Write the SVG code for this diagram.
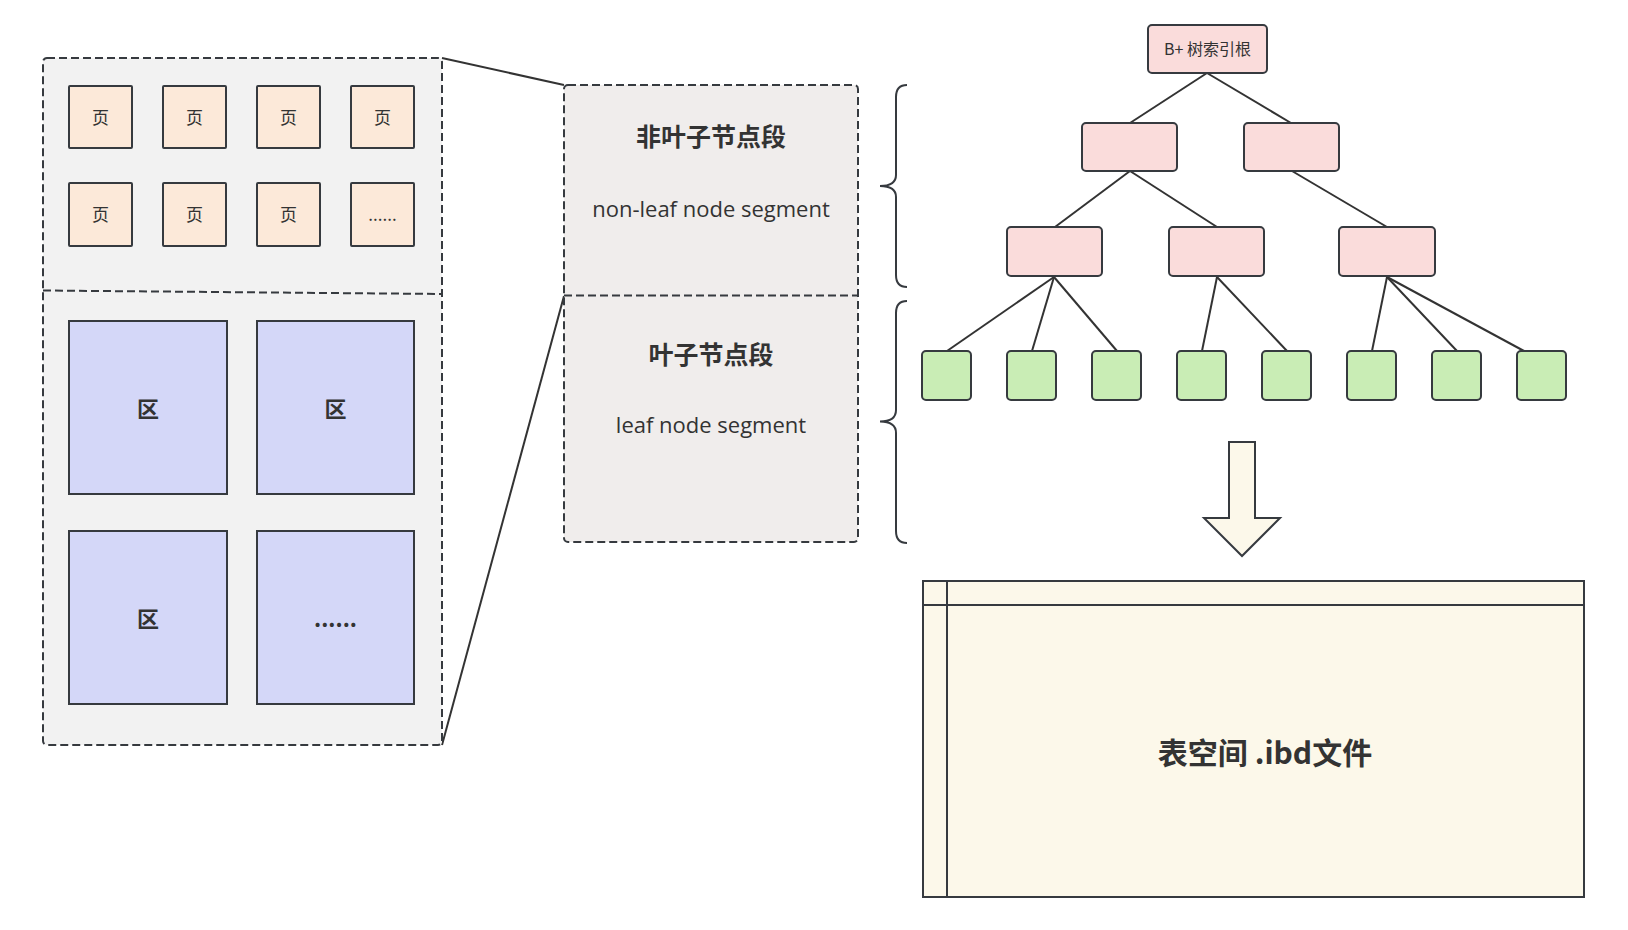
<svg xmlns="http://www.w3.org/2000/svg" width="1628" height="930" viewBox="0 0 1628 930">
<style>
.dash{stroke:#363a3f;stroke-width:2;stroke-dasharray:8 4;}
.box{stroke:#363a3f;stroke-width:2;}
.page{fill:#FCE9D9;stroke:#363a3f;stroke-width:2;}
.ext{fill:#D4D7F8;stroke:#363a3f;stroke-width:2;}
.tn{fill:#FADCDB;stroke:#363a3f;stroke-width:2;}
.lf{fill:#C9EDB5;stroke:#363a3f;stroke-width:2;}
.edge{stroke:#333;stroke-width:2;fill:none;}
.t{font-family:"Noto Sans CJK SC","Noto Sans",sans-serif;fill:#333;text-anchor:middle;dominant-baseline:central;}
.en{font-family:"Open Sans","Noto Sans",sans-serif;fill:#333;text-anchor:middle;dominant-baseline:central;}
</style>
<rect width="1628" height="930" fill="#ffffff"/>

<g id="connectors">
<line class="edge" x1="442" y1="58" x2="564" y2="85"/>
<line class="edge" x1="442" y1="745" x2="564" y2="296"/>
<line class="edge" x1="1207" y1="73" x2="1130" y2="123"/>
<line class="edge" x1="1207" y1="73" x2="1291" y2="123"/>
<line class="edge" x1="1130" y1="171" x2="1055" y2="227"/>
<line class="edge" x1="1130" y1="171" x2="1217" y2="227"/>
<line class="edge" x1="1292" y1="171" x2="1387" y2="227"/>
<line class="edge" x1="1054" y1="277" x2="947" y2="351"/>
<line class="edge" x1="1054" y1="277" x2="1032" y2="351"/>
<line class="edge" x1="1054" y1="277" x2="1117" y2="351"/>
<line class="edge" x1="1217" y1="277" x2="1202" y2="351"/>
<line class="edge" x1="1217" y1="277" x2="1287" y2="351"/>
<line class="edge" x1="1387" y1="277" x2="1372" y2="351"/>
<line class="edge" x1="1387" y1="277" x2="1457" y2="351"/>
<line class="edge" x1="1387" y1="277" x2="1524" y2="351"/>
</g>

<g id="extent-container">
<rect x="43" y="58" width="399" height="687" rx="4" fill="#F2F2F2" class="dash"/>
<line x1="43" y1="290.5" x2="442" y2="294" class="dash"/>
</g>

<g id="pages">
<g id="page1"><rect class="page" x="69" y="86" width="63" height="62" rx="1"/><text class="t" x="100.5" y="116" font-size="17">页</text></g>
<g id="page2"><rect class="page" x="163" y="86" width="63" height="62" rx="1"/><text class="t" x="194.5" y="116" font-size="17">页</text></g>
<g id="page3"><rect class="page" x="257" y="86" width="63" height="62" rx="1"/><text class="t" x="288.5" y="116" font-size="17">页</text></g>
<g id="page4"><rect class="page" x="351" y="86" width="63" height="62" rx="1"/><text class="t" x="382.5" y="116" font-size="17">页</text></g>
<g id="page5"><rect class="page" x="69" y="183" width="63" height="63" rx="1"/><text class="t" x="100.5" y="213" font-size="17">页</text></g>
<g id="page6"><rect class="page" x="163" y="183" width="63" height="63" rx="1"/><text class="t" x="194.5" y="213" font-size="17">页</text></g>
<g id="page7"><rect class="page" x="257" y="183" width="63" height="63" rx="1"/><text class="t" x="288.5" y="213" font-size="17">页</text></g>
<g id="page8"><rect class="page" x="351" y="183" width="63" height="63" rx="1"/><text class="t" x="382.5" y="213" font-size="17">......</text></g>
</g>

<g id="extents">
<g id="ext1"><rect class="ext" x="69" y="321" width="158" height="173"/><text class="t" x="148" y="407" font-size="22" font-weight="bold">区</text></g>
<g id="ext2"><rect class="ext" x="257" y="321" width="157" height="173"/><text class="t" x="335.5" y="407" font-size="22" font-weight="bold">区</text></g>
<g id="ext3"><rect class="ext" x="69" y="531" width="158" height="173"/><text class="t" x="148" y="617" font-size="22" font-weight="bold">区</text></g>
<g id="ext4"><rect class="ext" x="257" y="531" width="157" height="173"/><text class="t" x="335.5" y="617" font-size="22" font-weight="bold">......</text></g>
</g>

<g id="segments">
<rect x="564" y="85" width="294" height="457" rx="4" fill="#F0EDEC" class="dash"/>
<line x1="564" y1="295.5" x2="858" y2="295.5" class="dash"/>
<g id="nonleaf-seg">
<text class="t" x="711" y="135" font-size="25" font-weight="bold">非叶子节点段</text>
<text class="en" x="711" y="208" font-size="22">non-leaf node segment</text>
</g>
<g id="leaf-seg">
<text class="t" x="711" y="353" font-size="25" font-weight="bold">叶子节点段</text>
<text class="en" x="711" y="424" font-size="22">leaf node segment</text>
</g>
</g>

<g id="braces" fill="none" stroke="#363a3f" stroke-width="2">
<path d="M907,85 Q896,85 896,97 L896,175 Q896,186 880,186 Q896,186 896,197 L896,275 Q896,287 907,287"/>
<path d="M907,301 Q896,301 896,313 L896,410 Q896,421.5 880,421.5 Q896,421.5 896,433 L896,531 Q896,543 907,543"/>
</g>

<g id="tree">
<g id="root"><rect class="tn" x="1148" y="25" width="119" height="48" rx="4"/><text class="t" x="1207.5" y="48" font-size="16">B+ 树索引根</text></g>
<rect id="n1" class="tn" x="1082" y="123" width="95" height="48" rx="4"/>
<rect id="n2" class="tn" x="1244" y="123" width="95" height="48" rx="4"/>
<rect id="n3" class="tn" x="1007" y="227" width="95" height="49" rx="4"/>
<rect id="n4" class="tn" x="1169" y="227" width="95" height="49" rx="4"/>
<rect id="n5" class="tn" x="1339" y="227" width="96" height="49" rx="4"/>
<rect id="leaf1" class="lf" x="922" y="351" width="49" height="49" rx="4"/>
<rect id="leaf2" class="lf" x="1007" y="351" width="49" height="49" rx="4"/>
<rect id="leaf3" class="lf" x="1092" y="351" width="49" height="49" rx="4"/>
<rect id="leaf4" class="lf" x="1177" y="351" width="49" height="49" rx="4"/>
<rect id="leaf5" class="lf" x="1262" y="351" width="49" height="49" rx="4"/>
<rect id="leaf6" class="lf" x="1347" y="351" width="49" height="49" rx="4"/>
<rect id="leaf7" class="lf" x="1432" y="351" width="49" height="49" rx="4"/>
<rect id="leaf8" class="lf" x="1517" y="351" width="49" height="49" rx="4"/>
</g>

<g id="down-arrow">
<path d="M1229,442 L1255,442 L1255,518 L1280,518 L1242,556 L1204,518 L1229,518 Z" fill="#FCF8EA" stroke="#363a3f" stroke-width="2" stroke-linejoin="miter"/>
</g>

<g id="tablespace">
<rect x="923" y="581" width="661" height="316" fill="#FCF8EA" class="box"/>
<line x1="923" y1="605" x2="1584" y2="605" class="box"/>
<line x1="947" y1="581" x2="947" y2="897" class="box"/>
<text class="t" x="1265" y="751" font-size="30" font-weight="bold">表空间 .ibd文件</text>
</g>
</svg>
